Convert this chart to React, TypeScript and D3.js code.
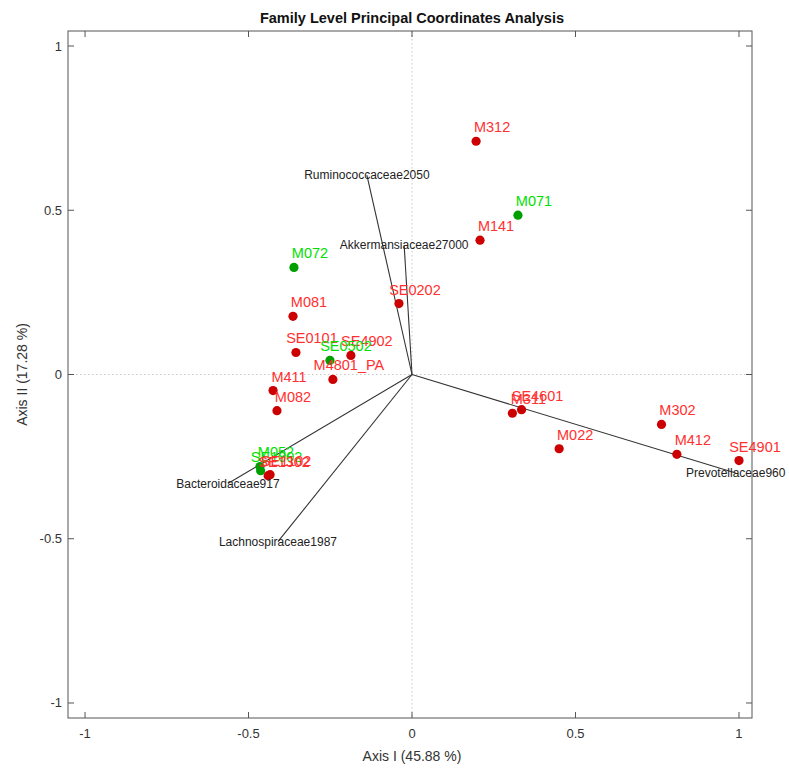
import React from "react";
import * as d3 from "d3";

// Sample scores on the first two principal coordinates
const sampleNames = [
  "M312", "M071", "M141", "M072", "SE0202", "M081", "SE0101", "SE4902",
  "SE0502", "M4801_PA", "M411", "M082", "M052", "SE1002", "SE1302", "SE1102",
  "SE4601", "M311", "M022", "M302", "M412", "SE4901",
];
const sampleAxis1 = [
  0.196, 0.324, 0.208, -0.361, -0.04, -0.364, -0.355, -0.187,
  -0.251, -0.242, -0.425, -0.413, -0.465, -0.463, -0.44, -0.434,
  0.335, 0.307, 0.45, 0.763, 0.81, 1.0,
];
const sampleAxis2 = [
  0.71, 0.485, 0.409, 0.326, 0.216, 0.177, 0.067, 0.058,
  0.043, -0.015, -0.049, -0.11, -0.28, -0.293, -0.308, -0.305,
  -0.107, -0.118, -0.226, -0.152, -0.243, -0.262,
];
const sampleGroup = [
  "red", "green", "red", "green", "red", "red", "red", "red",
  "green", "red", "red", "red", "green", "green", "red", "red",
  "red", "red", "red", "red", "red", "red",
];

// Family loading vectors
const familyNames = [
  "Ruminococcaceae2050", "Akkermansiaceae27000", "Bacteroidaceae917",
  "Lachnospiraceae1987", "Prevotellaceae960",
];
const familyAxis1 = [-0.138, -0.024, -0.563, -0.41, 0.99];
const familyAxis2 = [0.607, 0.393, -0.332, -0.509, -0.3];

const axisTicks = [-1, -0.5, 0, 0.5, 1];
const tickLabels = ["-1", "-0.5", "0", "0.5", "1"];

const W = 789;
const H = 769;
const box = { left: 68, right: 752, top: 31, bottom: 718 };

const groupColors: Record<string, { dot: string; text: string }> = {
  red: { dot: "#cc0000", text: "#ff3030" },
  green: { dot: "#009f00", text: "#00e000" },
};

export default function App() {
  const x = d3.scaleLinear().domain([-1.0521, 1.0398]).range([box.left, box.right]);
  const y = d3.scaleLinear().domain([-1.0457, 1.0457]).range([box.bottom, box.top]);
  const font = "'Liberation Sans', Arial, Helvetica, sans-serif";
  const order = d3.range(sampleNames.length);

  return (
    <svg
      width={W}
      height={H}
      style={{ position: "absolute", left: 0, top: 0, background: "#fff" }}
      fontFamily={font}
    >
      <text x={412} y={23} textAnchor="middle" fontSize={14.5} fontWeight="bold" fill="#111">
        Family Level Principal Coordinates Analysis
      </text>

      {/* zero reference lines */}
      <line x1={x(0)} x2={x(0)} y1={box.top} y2={box.bottom} stroke="#c8c8c8" strokeDasharray="1.5,2.5" />
      <line x1={box.left} x2={box.right} y1={y(0)} y2={y(0)} stroke="#c8c8c8" strokeDasharray="1.5,2.5" />

      {/* frame */}
      <rect
        x={box.left}
        y={box.top}
        width={box.right - box.left}
        height={box.bottom - box.top}
        fill="none"
        stroke="#555"
        strokeWidth={1}
      />

      {/* ticks */}
      {axisTicks.map((t, i) => (
        <g key={`xt${i}`}>
          <line x1={x(t)} x2={x(t)} y1={box.bottom} y2={box.bottom - 6} stroke="#555" />
          <line x1={x(t)} x2={x(t)} y1={box.top} y2={box.top + 6} stroke="#555" />
          <text x={x(t)} y={box.bottom + 20} textAnchor="middle" fontSize={13} fill="#333">
            {tickLabels[i]}
          </text>
        </g>
      ))}
      {axisTicks.map((t, i) => (
        <g key={`yt${i}`}>
          <line x1={box.left} x2={box.left + 6} y1={y(t)} y2={y(t)} stroke="#555" />
          <line x1={box.right} x2={box.right - 6} y1={y(t)} y2={y(t)} stroke="#555" />
          <text x={box.left - 6} y={y(t) + 4.5} textAnchor="end" fontSize={13} fill="#333">
            {tickLabels[i]}
          </text>
        </g>
      ))}

      <text x={412} y={761} textAnchor="middle" fontSize={14} fill="#333">
        Axis I (45.88 %)
      </text>
      <text
        transform={`translate(27,${y(0)}) rotate(-90)`}
        textAnchor="middle"
        fontSize={14}
        fill="#333"
      >
        Axis II (17.28 %)
      </text>

      {/* family vectors */}
      {familyNames.map((f, i) => (
        <line
          key={`fl${f}`}
          x1={x(0)}
          y1={y(0)}
          x2={x(familyAxis1[i])}
          y2={y(familyAxis2[i])}
          stroke="#333"
          strokeWidth={1.1}
        />
      ))}

      {/* samples */}
      {order.map((i) => (
        <circle
          key={`pt${i}`}
          cx={x(sampleAxis1[i])}
          cy={y(sampleAxis2[i])}
          r={4.6}
          fill={groupColors[sampleGroup[i]].dot}
        />
      ))}
      {order.map((i) => (
        <text
          key={`lb${i}`}
          x={x(sampleAxis1[i]) + 16}
          y={y(sampleAxis2[i]) - 9}
          textAnchor="middle"
          fontSize={14.5}
          fill={groupColors[sampleGroup[i]].text}
        >
          {sampleNames[i]}
        </text>
      ))}

      {/* family labels */}
      {familyNames.map((f, i) => (
        <text
          key={`ft${f}`}
          x={x(familyAxis1[i])}
          y={y(familyAxis2[i]) + 4}
          textAnchor="middle"
          fontSize={12}
          fill="#222"
        >
          {f}
        </text>
      ))}
    </svg>
  );
}
